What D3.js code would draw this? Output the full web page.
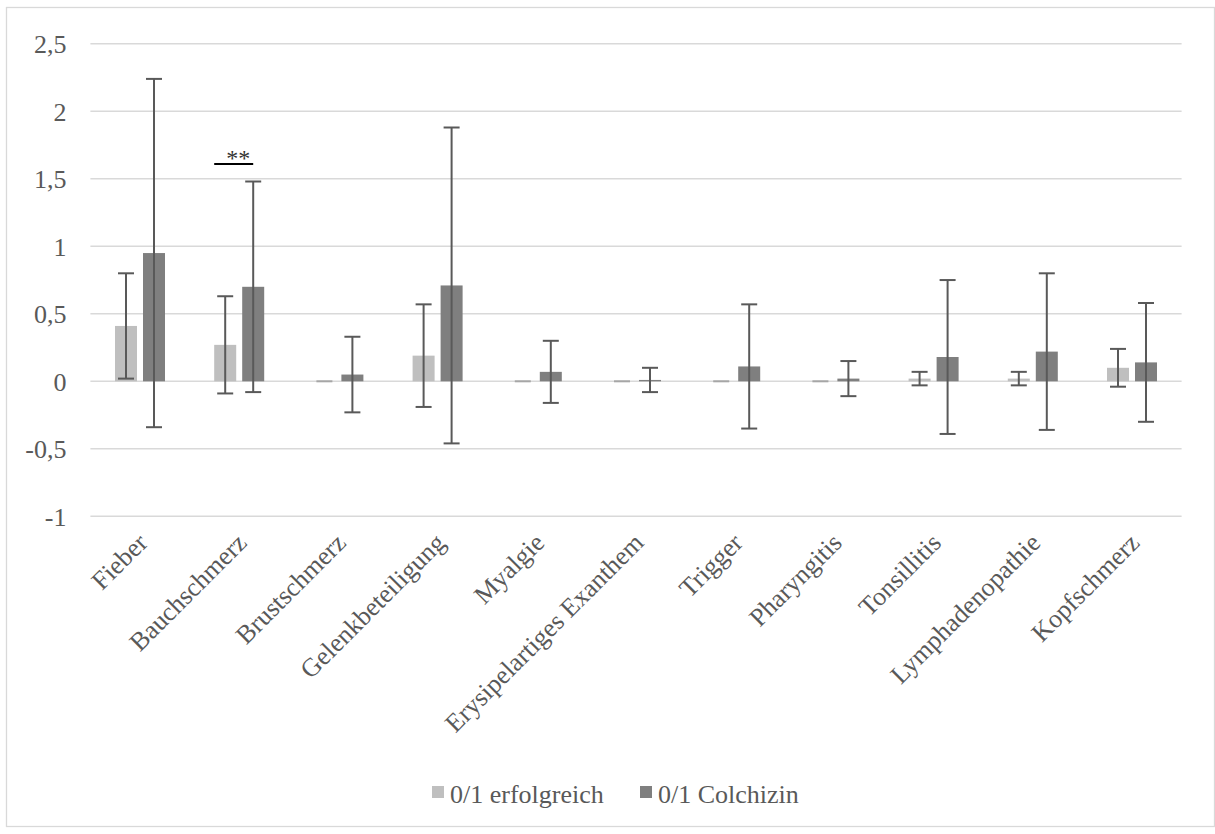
<!DOCTYPE html>
<html>
<head>
<meta charset="utf-8">
<script src="https://cdn.jsdelivr.net/npm/d3@7"></script>
<style>
  html, body { margin: 0; padding: 0; background: #fff; }
  svg { display: block; font-family: "Liberation Serif", serif; }
  text { font-family: "Liberation Serif", serif; fill: #595959; }
</style>
</head>
<body>
<svg id="chart" width="1215" height="834"></svg>
<script>
// Symptom categories
const categories = ["Fieber", "Bauchschmerz", "Brustschmerz", "Gelenkbeteiligung", "Myalgie",
  "Erysipelartiges Exanthem", "Trigger", "Pharyngitis", "Tonsillitis", "Lymphadenopathie", "Kopfschmerz"];

// Series names
const seriesNames = ["0/1 erfolgreich", "0/1 Colchizin"];

// Means and standard deviations per series
const erfolgreichMean = [0.41, 0.27, 0, 0.19, 0, 0, 0, 0, 0.02, 0.02, 0.10];
const erfolgreichSD   = [0.39, 0.36, 0, 0.38, 0, 0, 0, 0, 0.05, 0.05, 0.14];
const colchizinMean   = [0.95, 0.70, 0.05, 0.71, 0.07, 0.01, 0.11, 0.02, 0.18, 0.22, 0.14];
const colchizinSD     = [1.29, 0.78, 0.28, 1.17, 0.23, 0.09, 0.46, 0.13, 0.57, 0.58, 0.44];

// Y axis ticks
const yTicks = [-1, -0.5, 0, 0.5, 1, 1.5, 2, 2.5];

// Significance marker
const sigCategory = "Bauchschmerz";
const sigLevel = 1.61;
const sigLabel = "**";

const colors = ["#bfbfbf", "#7f7f7f"];

const svg = d3.select("#chart");
const W = 1215, H = 834;
const FONT = "Liberation Serif, serif";

// chart frame
svg.append("rect")
  .attr("x", 6.5).attr("y", 7.5)
  .attr("width", W - 7).attr("height", H - 15)
  .attr("fill", "#fff").attr("stroke", "#d9d9d9").attr("stroke-width", 1.3);

const plot = { left: 90.4, right: 1181.6, top: 43.8, bottom: 516.3 };

const x = d3.scaleBand().domain(categories).range([plot.left, plot.right]).padding(0);
const y = d3.scaleLinear().domain([-1, 2.5]).range([plot.bottom, plot.top]);

const de = d3.formatLocale({ decimal: ",", thousands: ".", grouping: [3], currency: ["", "€"], minus: "-" });
const fmt = de.format("~g");

// horizontal gridlines
svg.append("g").selectAll("line").data(yTicks).join("line")
  .attr("x1", plot.left).attr("x2", plot.right)
  .attr("y1", d => y(d)).attr("y2", d => y(d))
  .attr("stroke", "#d9d9d9").attr("stroke-width", 1.5);

// y axis labels
const yAxis = d3.axisLeft(y).tickValues(yTicks).tickFormat(fmt).tickSize(0).tickPadding(0);
const yg = svg.append("g").attr("transform", `translate(${plot.left - 24},0)`).call(yAxis)
  .attr("font-family", FONT);
yg.select(".domain").remove();
yg.selectAll("text")
  .attr("font-size", 26)
  .style("font-family", FONT)
  .attr("fill", "#595959")
  .attr("dy", "0.34em");

// grouped bars
const barW = 22, offset = 14;
const series = [
  { name: seriesNames[0], mean: erfolgreichMean, sd: erfolgreichSD, dx: -offset, color: colors[0] },
  { name: seriesNames[1], mean: colchizinMean, sd: colchizinSD, dx: offset, color: colors[1] }
];

const rows = [];
series.forEach((s, si) => {
  categories.forEach((c, i) => {
    rows.push({ cat: c, v: s.mean[i], e: s.sd[i], si, cx: x(c) + x.bandwidth() / 2 + s.dx, color: s.color });
  });
});

const gBars = svg.append("g");
gBars.selectAll("rect").data(rows.filter(d => d.v !== 0)).join("rect")
  .attr("x", d => d.cx - barW / 2)
  .attr("width", barW)
  .attr("y", d => Math.min(y(d.v), y(0)))
  .attr("height", d => Math.abs(y(d.v) - y(0)))
  .attr("fill", d => d.color);

// zero-valued bars shown as a flat stroke on the baseline
gBars.selectAll("line.zero").data(rows.filter(d => d.v === 0)).join("line")
  .attr("class", "zero")
  .attr("x1", d => d.cx - 8).attr("x2", d => d.cx + 8)
  .attr("y1", y(0)).attr("y2", y(0))
  .attr("stroke", "#a6a6a6").attr("stroke-width", 2);

// error bars
const capW = 16;
const gErr = svg.append("g").attr("stroke", "#595959").attr("stroke-width", 2);
const errRows = rows.filter(d => d.e > 0);
gErr.selectAll("line.v").data(errRows).join("line")
  .attr("class", "v")
  .attr("x1", d => d.cx).attr("x2", d => d.cx)
  .attr("y1", d => y(d.v + d.e)).attr("y2", d => y(d.v - d.e));
gErr.selectAll("line.t").data(errRows).join("line")
  .attr("class", "t")
  .attr("x1", d => d.cx - capW / 2).attr("x2", d => d.cx + capW / 2)
  .attr("y1", d => y(d.v + d.e)).attr("y2", d => y(d.v + d.e));
gErr.selectAll("line.b").data(errRows).join("line")
  .attr("class", "b")
  .attr("x1", d => d.cx - capW / 2).attr("x2", d => d.cx + capW / 2)
  .attr("y1", d => y(d.v - d.e)).attr("y2", d => y(d.v - d.e));

// significance bracket
const sc = x(sigCategory) + x.bandwidth() / 2;
svg.append("line")
  .attr("x1", sc - offset - barW / 2).attr("x2", sc + offset)
  .attr("y1", y(sigLevel)).attr("y2", y(sigLevel))
  .attr("stroke", "#000").attr("stroke-width", 2);
svg.append("text")
  .attr("x", sc - 1).attr("y", y(sigLevel) + 2)
  .attr("text-anchor", "middle")
  .attr("font-size", 24)
  .style("fill", "#333")
  .text(sigLabel);

// category labels, rotated
const xAxis = d3.axisBottom(x).tickSize(0).tickPadding(0);
const xg = svg.append("g").attr("transform", `translate(0,${plot.bottom})`).call(xAxis)
  .attr("font-family", FONT);
xg.select(".domain").remove();
xg.selectAll(".tick text")
  .attr("font-size", 26)
  .style("font-family", FONT)
  .attr("fill", "#595959")
  .attr("text-anchor", "end")
  .attr("dy", 0)
  .attr("y", 0)
  .attr("transform", "translate(9,28) rotate(-45)");

// legend
const legend = svg.append("g");
const legendX = [432, 640];
seriesNames.forEach((n, i) => {
  legend.append("rect").attr("x", legendX[i]).attr("y", 786).attr("width", 12).attr("height", 12).attr("fill", colors[i]);
  legend.append("text").attr("x", legendX[i] + 18).attr("y", 803)
    .attr("font-size", 26).style("font-family", FONT).text(n);
});
</script>
</body>
</html>
